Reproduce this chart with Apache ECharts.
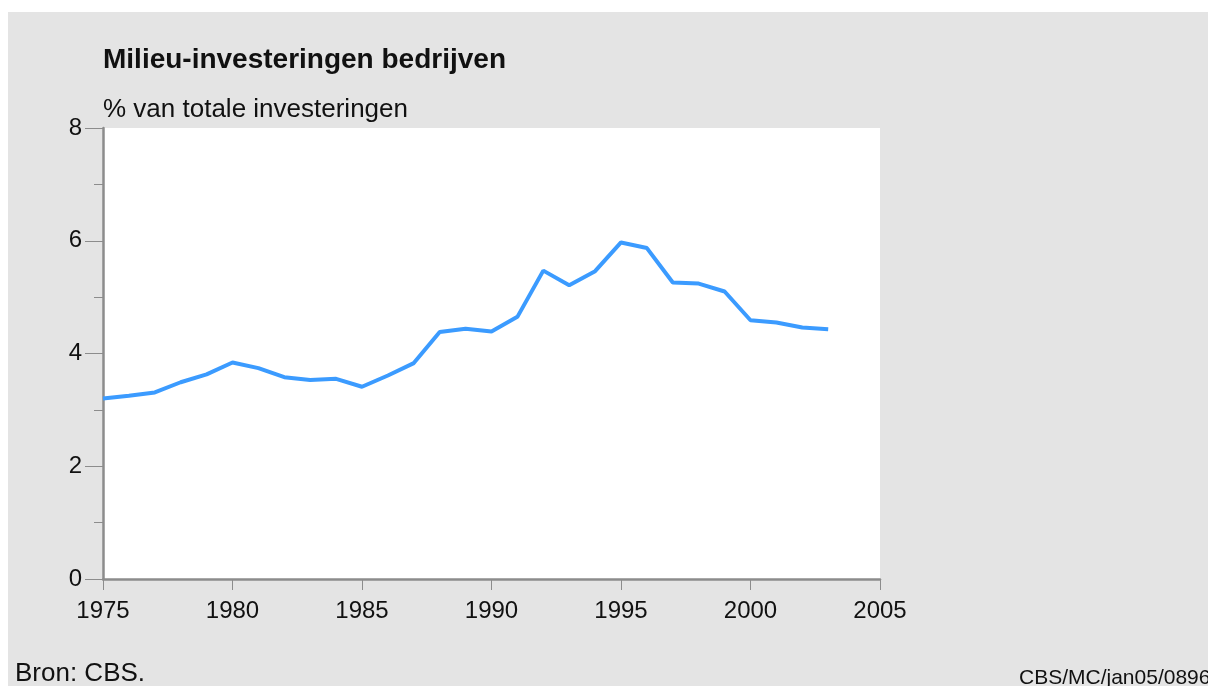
<!DOCTYPE html>
<html>
<head>
<meta charset="utf-8">
<script src="https://cdn.jsdelivr.net/npm/echarts@6/dist/echarts.min.js"></script>
<style>
  body { margin: 0; background: #fff; }
  #bg { position: absolute; left: 8px; top: 12px; right: 0; bottom: 0; background: #e4e4e4; }
  #main { position: absolute; left: 0; top: 0; width: 1208px; height: 686px; }
</style>
</head>
<body>
<div id="bg"></div>
<div id="main"></div>
<script>
// data
var years = [1975, 1976, 1977, 1978, 1979, 1980, 1981, 1982, 1983, 1984,
             1985, 1986, 1987, 1988, 1989, 1990, 1991, 1992, 1993, 1994,
             1995, 1996, 1997, 1998, 1999, 2000, 2001, 2002, 2003];
var share = [3.2, 3.25, 3.31, 3.49, 3.63, 3.84, 3.74, 3.58, 3.53, 3.55,
             3.41, 3.61, 3.83, 4.38, 4.44, 4.39, 4.65, 5.47, 5.21, 5.46,
             5.97, 5.87, 5.26, 5.24, 5.10, 4.59, 4.55, 4.46, 4.43];

var titleText = 'Milieu-investeringen bedrijven';
var unitText = '% van totale investeringen';
var sourceText = 'Bron: CBS.';
var codeText = 'CBS/MC/jan05/0896';

var lineData = [];
for (var i = 0; i < years.length; i++) {
    lineData.push([years[i], share[i]]);
}

var font = '"Liberation Sans", Arial, sans-serif';
var axisGray = '#8c8c8c';

var myChart = echarts.init(document.getElementById('main'));

var option = {
    animation: false,
    textStyle: { fontFamily: font },
    title: [
        {
            text: titleText,
            left: 98, top: 41,
            textStyle: { fontFamily: font, fontSize: 28, fontWeight: 'bold', color: '#111' }
        },
        {
            text: unitText,
            left: 98, top: 92,
            textStyle: { fontFamily: font, fontSize: 26, fontWeight: 'normal', color: '#111' }
        },
        {
            text: sourceText,
            left: 10, top: 656,
            textStyle: { fontFamily: font, fontSize: 26, fontWeight: 'normal', color: '#111' }
        },
        {
            text: codeText,
            left: 1014, top: 663,
            textStyle: { fontFamily: font, fontSize: 21, fontWeight: 'normal', color: '#111' }
        }
    ],
    grid: {
        left: 103, top: 128, width: 777, height: 451,
        show: true, backgroundColor: '#ffffff', borderWidth: 0
    },
    xAxis: {
        type: 'value',
        min: 1975, max: 2005, interval: 5,
        axisLine: { show: true, lineStyle: { color: axisGray, width: 2.5 } },
        axisTick: { show: true, length: 11, lineStyle: { color: axisGray, width: 1 } },
        axisLabel: {
            fontSize: 24, color: '#111', margin: 20, fontFamily: font,
            formatter: function (v) { return String(v); }
        },
        splitLine: { show: false }
    },
    yAxis: {
        type: 'value',
        min: 0, max: 8, interval: 2,
        axisLine: { show: true, lineStyle: { color: axisGray, width: 2.5 } },
        axisTick: { show: true, length: 18, lineStyle: { color: axisGray, width: 1 } },
        minorTick: { show: true, splitNumber: 2, length: 9, lineStyle: { color: axisGray, width: 1 } },
        axisLabel: { fontSize: 24, color: '#111', margin: 21, fontFamily: font },
        splitLine: { show: false }
    },
    series: [
        {
            type: 'line',
            data: lineData,
            showSymbol: false,
            lineStyle: { color: '#3b9bff', width: 4 },
            itemStyle: { color: '#3b9bff' }
        }
    ]
};

myChart.setOption(option);
</script>
</body>
</html>
